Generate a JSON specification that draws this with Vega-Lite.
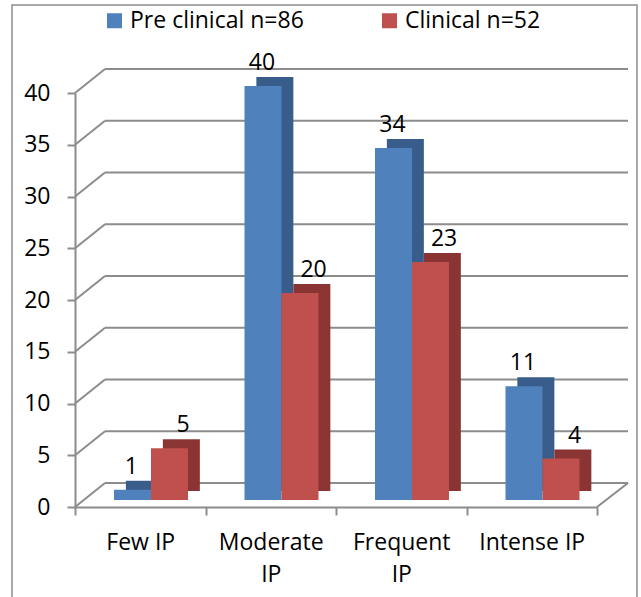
{
  "$schema": "https://vega.github.io/schema/vega-lite/v6.json",
  "width": 522,
  "height": 414,
  "autosize": "none",
  "padding": {"left": 75, "top": 93, "right": 44, "bottom": 90},
  "background": "white",
  "config": {
    "font": "Open Sans",
    "view": {"stroke": null},
    "axisY": {
      "grid": false, "tickSize": 8, "labelPadding": 17, "labelFontSize": 23,
      "domainColor": "#8C8C8C", "domainWidth": 2, "tickColor": "#8C8C8C", "tickWidth": 2,
      "labelColor": "black", "tickCount": 8, "title": null
    }
  },
  "datasets": {
    "bars": [
      {"cat": "Few IP", "series": "Pre clinical n=86", "value": 1},
      {"cat": "Few IP", "series": "Clinical n=52", "value": 5},
      {"cat": "Moderate IP", "series": "Pre clinical n=86", "value": 40},
      {"cat": "Moderate IP", "series": "Clinical n=52", "value": 20},
      {"cat": "Frequent IP", "series": "Pre clinical n=86", "value": 34},
      {"cat": "Frequent IP", "series": "Clinical n=52", "value": 23},
      {"cat": "Intense IP", "series": "Pre clinical n=86", "value": 11},
      {"cat": "Intense IP", "series": "Clinical n=52", "value": 4}
    ],
    "grid": [{"v": 0}, {"v": 5}, {"v": 10}, {"v": 15}, {"v": 20}, {"v": 25}, {"v": 30}, {"v": 35}, {"v": 40}]
  },
  "resolve": {"scale": {"x": "independent", "xOffset": "independent"}},
  "layer": [
    {
      "data": {"name": "grid"},
      "transform": [{"filter": "datum.v == 0"}],
      "mark": {"type": "rect", "fill": null, "stroke": "#8C8C8C", "strokeWidth": 1.5, "clip": false,
               "xOffset": -63, "x2Offset": 40, "yOffset": -88, "y2Offset": 110},
      "encoding": {
        "x": {"datum": 0, "type": "quantitative", "scale": {"domain": [0, 1]}, "axis": null},
        "x2": {"datum": 1},
        "y": {"datum": 40, "type": "quantitative", "scale": {"domain": [0, 40], "nice": false}, "title": null},
        "y2": {"datum": 0}
      }
    },
    {
      "data": {"name": "grid"},
      "mark": {"type": "rule", "stroke": "#8C8C8C", "strokeWidth": 2,
               "xOffset": 30, "x2Offset": 31, "yOffset": -24, "y2Offset": -24},
      "encoding": {
        "x": {"datum": 0, "type": "quantitative", "scale": {"domain": [0, 1]}, "axis": null},
        "x2": {"datum": 1},
        "y": {"field": "v", "type": "quantitative", "scale": {"domain": [0, 40], "nice": false}, "title": null},
        "y2": {"field": "v"}
      }
    },
    {
      "data": {"name": "grid"},
      "mark": {"type": "rule", "stroke": "#8C8C8C", "strokeWidth": 2, "x2Offset": 30, "y2Offset": -24},
      "encoding": {
        "x": {"datum": 0, "type": "quantitative", "scale": {"domain": [0, 1]}, "axis": null},
        "x2": {"datum": 0},
        "y": {"field": "v", "type": "quantitative", "scale": {"domain": [0, 40], "nice": false}, "title": null},
        "y2": {"field": "v"}
      }
    },
    {
      "data": {"name": "grid"},
      "transform": [{"filter": "datum.v == 0"}],
      "mark": {"type": "rule", "stroke": "#8C8C8C", "strokeWidth": 2, "x2Offset": 31, "y2Offset": -24},
      "encoding": {
        "x": {"datum": 1, "type": "quantitative", "scale": {"domain": [0, 1]}, "axis": null},
        "x2": {"datum": 1},
        "y": {"field": "v", "type": "quantitative", "scale": {"domain": [0, 40], "nice": false}, "title": null},
        "y2": {"field": "v"}
      }
    },
    {
      "data": {"name": "bars"},
      "mark": {"type": "bar", "yOffset": -16, "y2Offset": -16},
      "encoding": {
        "x": {"field": "cat", "type": "nominal", "sort": ["Few IP", "Moderate IP", "Frequent IP", "Intense IP"],
              "scale": {"paddingInner": 0, "paddingOuter": 0}, "axis": null},
        "xOffset": {"field": "series", "sort": ["Pre clinical n=86", "Clinical n=52"],
                    "scale": {"paddingInner": 0, "paddingOuter": 0.764, "align": 0.9}},
        "y": {"field": "value", "type": "quantitative", "scale": {"domain": [0, 40], "nice": false}, "title": null},
        "fill": {"condition": {"test": "datum.series == 'Pre clinical n=86'", "value": "#385D8A"}, "value": "#8A3533"}
      }
    },
    {
      "data": {"name": "bars"},
      "mark": {"type": "bar", "yOffset": -7, "y2Offset": -7},
      "encoding": {
        "x": {"field": "cat", "type": "nominal", "sort": ["Few IP", "Moderate IP", "Frequent IP", "Intense IP"],
              "scale": {"paddingInner": 0, "paddingOuter": 0},
              "axis": {"title": null, "labelFontSize": 23, "labelColor": "black", "tickBand": "extent", "tickSize": 8,
                       "labelPadding": 16, "labelAngle": 0, "domainColor": "#8C8C8C", "domainWidth": 2,
                       "tickColor": "#8C8C8C", "tickWidth": 2, "labelLineHeight": 32,
                       "labelExpr": "(datum.label == 'Moderate IP' || datum.label == 'Frequent IP') ? split(datum.label, ' ') : datum.label"}},
        "xOffset": {"field": "series", "sort": ["Pre clinical n=86", "Clinical n=52"],
                    "scale": {"paddingInner": 0, "paddingOuter": 0.764, "align": 0.69}},
        "y": {"field": "value", "type": "quantitative", "scale": {"domain": [0, 40], "nice": false}, "title": null},
        "color": {"field": "series", "type": "nominal", "sort": ["Pre clinical n=86", "Clinical n=52"],
                  "scale": {"domain": ["Pre clinical n=86", "Clinical n=52"], "range": ["#4F81BD", "#C0504D"]},
                  "legend": {"title": null, "orient": "none", "legendX": 28, "legendY": -84, "direction": "horizontal",
                             "symbolType": "square", "symbolSize": 225, "symbolStrokeWidth": 0, "labelLimit": 400,
                             "labelFontSize": 23, "labelColor": "black", "labelOffset": 4, "columnPadding": 74}}
      }
    },
    {
      "data": {"name": "bars"},
      "mark": {"type": "text", "fontSize": 23, "baseline": "alphabetic", "dx": 2, "dy": -23, "color": "black"},
      "encoding": {
        "x": {"field": "cat", "type": "nominal", "sort": ["Few IP", "Moderate IP", "Frequent IP", "Intense IP"],
              "scale": {"paddingInner": 0, "paddingOuter": 0}, "axis": null},
        "xOffset": {"field": "series", "sort": ["Pre clinical n=86", "Clinical n=52"],
                    "scale": {"paddingInner": 0, "paddingOuter": 0.764, "align": 0.69}},
        "y": {"field": "value", "type": "quantitative", "scale": {"domain": [0, 40], "nice": false}, "title": null},
        "text": {"field": "value", "type": "quantitative"}
      }
    }
  ]
}
